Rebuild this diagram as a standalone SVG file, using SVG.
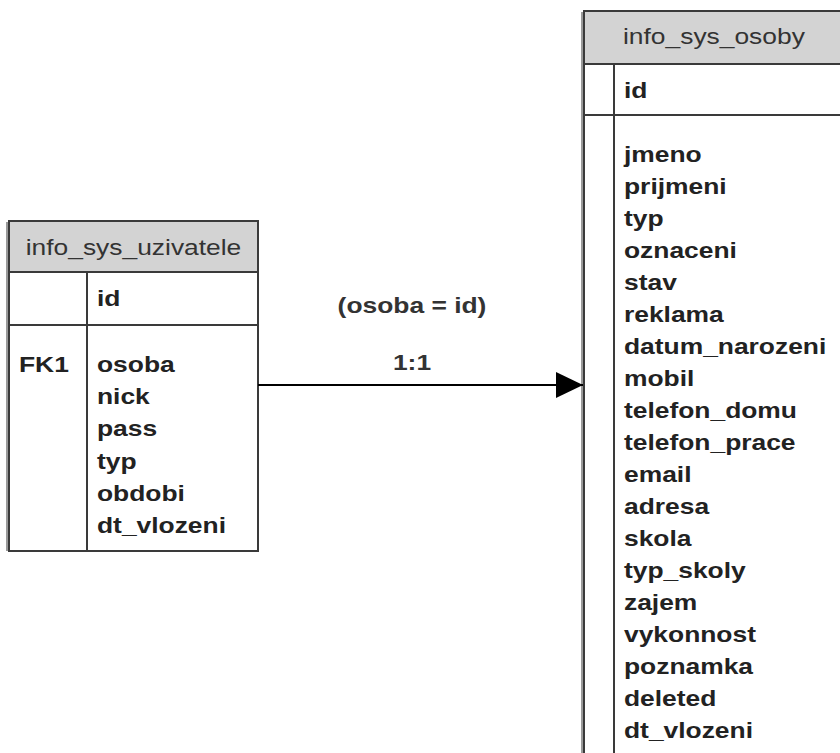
<svg xmlns="http://www.w3.org/2000/svg" width="840" height="753" viewBox="0 0 840 753">
  <defs>
    <style>
      .body { fill: #ffffff; }
      .head { fill: #d3d3d3; }
      .shade { fill: none; stroke: #9a9a9a; stroke-width: 2; }
      .rule { stroke: #3a3a3a; stroke-width: 2; fill: none; }
      .title { font-family: "Liberation Sans", Arial, sans-serif; font-size: 22px; fill: #333333; }
      .field { font-family: "Liberation Sans", Arial, sans-serif; font-size: 22px; font-weight: bold; fill: #222222; }
      .label { font-family: "Liberation Sans", Arial, sans-serif; font-size: 22px; font-weight: bold; fill: #333333; text-anchor: middle; }
      .link { stroke: #000000; stroke-width: 2; fill: none; }
    </style>
    <marker id="arrow" viewBox="0 0 27 26" refX="27" refY="13" markerWidth="27" markerHeight="26" markerUnits="userSpaceOnUse" orient="auto">
      <path d="M0,0 L27,13 L0,26 Z" fill="#000000"/>
    </marker>
  </defs>

  <!-- table info_sys_uzivatele -->
  <g id="info_sys_uzivatele">
    <rect class="body" x="9" y="221" width="249" height="330"/>
    <rect class="head" x="9" y="221" width="249" height="51"/>
    <line class="shade" x1="7" y1="222" x2="7" y2="551"/>
    <rect class="rule" x="9" y="221" width="249" height="330"/>
    <line class="rule" x1="9" y1="272" x2="258" y2="272"/>
    <line class="rule" x1="9" y1="325" x2="258" y2="325"/>
    <line class="rule" x1="87" y1="272" x2="87" y2="551"/>
    <g transform="translate(133.5,0) scale(1.2,1)">
      <text class="title" x="0" y="255" text-anchor="middle">info_sys_uzivatele</text>
    </g>
    <g transform="translate(19,0) scale(1.2,1)">
      <text class="field" x="0" y="372">FK1</text>
    </g>
    <g transform="translate(97,0) scale(1.2,1)">
      <text class="field" x="0" y="306">id</text>
      <text class="field" x="0" y="372">osoba</text>
      <text class="field" x="0" y="404.2">nick</text>
      <text class="field" x="0" y="436.4">pass</text>
      <text class="field" x="0" y="468.6">typ</text>
      <text class="field" x="0" y="500.8">obdobi</text>
      <text class="field" x="0" y="533">dt_vlozeni</text>
    </g>
  </g>

  <!-- table info_sys_osoby (runs past the right and bottom edges) -->
  <g id="info_sys_osoby">
    <rect class="body" x="584" y="11" width="270" height="760"/>
    <rect class="head" x="584" y="11" width="270" height="53"/>
    <line class="shade" x1="582" y1="12" x2="582" y2="753"/>
    <rect class="rule" x="584" y="11" width="270" height="760"/>
    <line class="rule" x1="584" y1="64" x2="854" y2="64"/>
    <line class="rule" x1="584" y1="115" x2="854" y2="115"/>
    <line class="rule" x1="614" y1="64" x2="614" y2="771"/>
    <g transform="translate(623,0) scale(1.2,1)">
      <text class="title" x="0" y="44">info_sys_osoby</text>
    </g>
    <g transform="translate(624,0) scale(1.2,1)">
      <text class="field" x="0" y="98">id</text>
      <text class="field" x="0" y="162">jmeno</text>
      <text class="field" x="0" y="194">prijmeni</text>
      <text class="field" x="0" y="226">typ</text>
      <text class="field" x="0" y="258">oznaceni</text>
      <text class="field" x="0" y="290">stav</text>
      <text class="field" x="0" y="322">reklama</text>
      <text class="field" x="0" y="354">datum_narozeni</text>
      <text class="field" x="0" y="386">mobil</text>
      <text class="field" x="0" y="418">telefon_domu</text>
      <text class="field" x="0" y="450">telefon_prace</text>
      <text class="field" x="0" y="482">email</text>
      <text class="field" x="0" y="514">adresa</text>
      <text class="field" x="0" y="546">skola</text>
      <text class="field" x="0" y="578">typ_skoly</text>
      <text class="field" x="0" y="610">zajem</text>
      <text class="field" x="0" y="642">vykonnost</text>
      <text class="field" x="0" y="674">poznamka</text>
      <text class="field" x="0" y="706">deleted</text>
      <text class="field" x="0" y="738">dt_vlozeni</text>
    </g>
  </g>

  <!-- relationship osoba -> id -->
  <g id="connectors">
    <line class="link" x1="258" y1="385" x2="583" y2="385" marker-end="url(#arrow)"/>
    <g transform="translate(412,0) scale(1.2,1)">
      <text class="label" x="0" y="313">(osoba = id)</text>
      <text class="label" x="0" y="370">1:1</text>
    </g>
  </g>
</svg>
